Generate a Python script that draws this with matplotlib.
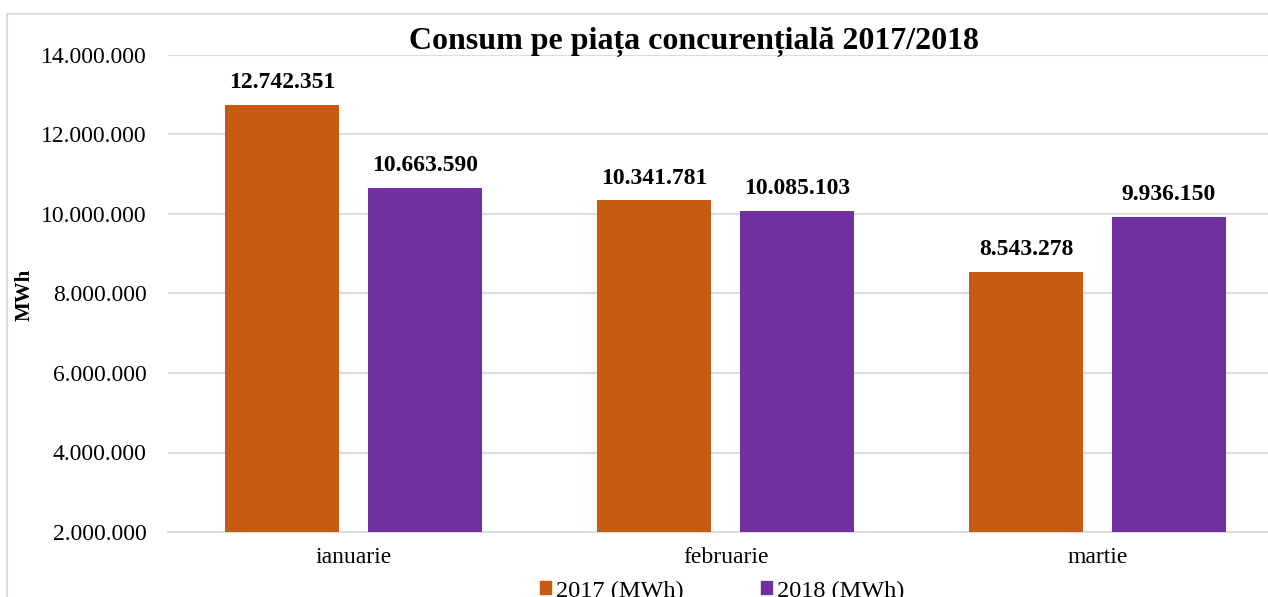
import matplotlib
matplotlib.use("Agg")
import matplotlib.pyplot as plt
from matplotlib.patches import Rectangle, Patch
import numpy as np

categories = ["ianuarie", "februarie", "martie"]
values_2017 = [12742351, 10341781, 8543278]
values_2018 = [10663590, 10085103, 9936150]
series_names = ["2017 (MWh)", "2018 (MWh)"]
title = "Consum pe piața concurențială 2017/2018"
ylabel = "MWh"
yticks = [2000000, 4000000, 6000000, 8000000, 10000000, 12000000, 14000000]

C17 = "#C55A11"
C18 = "#7030A0"
GRID = "#D9DCE1"

plt.rcParams['font.family'] = ['Liberation Serif', 'DejaVu Serif']

W, H = 1268, 597
fig = plt.figure(figsize=(W/100, H/100), dpi=100)

def px(x0, y0, x1, y1):
    return [x0/W, 1 - y1/H, (x1-x0)/W, (y1-y0)/H]

# chart frame (cropped on right and bottom)
fig.patches.append(Rectangle((7/W, -0.1), 1.2, 1 - 14/H + 0.1, transform=fig.transFigure,
                             fill=False, edgecolor=GRID, linewidth=1.5))

ax = fig.add_axes(px(167.5, 55, 1283.5, 532))
x = np.arange(len(categories))
bw = 0.307
off = 0.1915
ax.bar(x - off, values_2017, bw, color=C17, zorder=3)
ax.bar(x + off, values_2018, bw, color=C18, zorder=3)

def fmt(v):
    return f"{v:,}".replace(",", ".")

for xs, vals in ((x - off, values_2017), (x + off, values_2018)):
    for xi, v in zip(xs, vals):
        ax.annotate(fmt(v), (xi, v), xytext=(0, 12), textcoords="offset points",
                    ha="center", va="baseline", fontsize=17, fontweight="bold")

ax.set_xlim(-0.5, 2.5)
ax.set_ylim(2000000, 14000000)
ax.set_yticks(yticks)
ax.set_yticklabels([fmt(t) for t in yticks], fontsize=17)
ax.set_xticks(x)
ax.set_xticklabels(categories, fontsize=17)
ax.tick_params(axis='y', length=0, pad=15)
ax.tick_params(axis='x', length=0, pad=11)
ax.yaxis.grid(True, color=GRID, linewidth=1.5, zorder=0)
ax.set_axisbelow(True)
for s in ax.spines.values():
    s.set_visible(False)
ax.spines['bottom'].set_visible(True)
ax.spines['bottom'].set_color(GRID)
ax.spines['bottom'].set_linewidth(1.5)

fig.text(694/W, 1 - 42/H, title, ha="center", va="center", fontsize=23, fontweight="bold")
fig.text(25/W, 1 - 295/H, ylabel, ha="center", va="center", rotation=90, fontsize=15, fontweight="bold")

handles = [Patch(color=C17), Patch(color=C18)]
fig.legend(handles, series_names, loc="center", bbox_to_anchor=(722/W, 1 - 591/H), ncol=2,
           frameon=False, fontsize=17.5, handlelength=0.45, handleheight=0.45, handletextpad=0.2,
           columnspacing=3.2, borderpad=0)

fig.savefig("out.png", dpi=100)
